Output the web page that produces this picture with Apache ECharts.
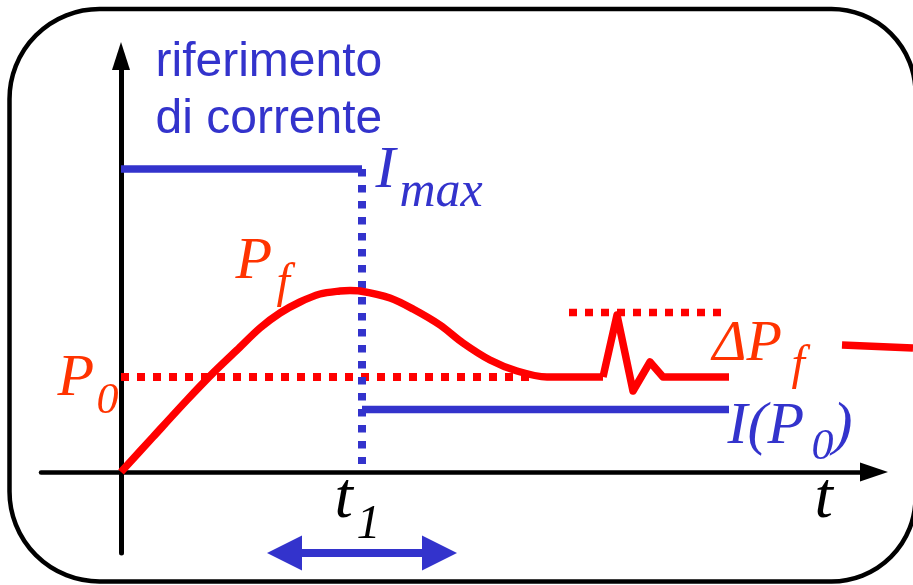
<!DOCTYPE html>
<html>
<head>
<meta charset="utf-8">
<script src="https://cdn.jsdelivr.net/npm/echarts@6/dist/echarts.min.js"></script>
<style>
  html, body { margin: 0; padding: 0; background: #fff; }
  #chart { width: 913px; height: 585px; }
</style>
</head>
<body>
<div id="chart"></div>
<script>
// diagram units: 1 unit ~ 1px, origin where the two axes cross
const powerCurve = [[0, 0], [32, 35], [66, 72], [92, 99], [116, 122], [139, 144], [159, 159], [179, 170],
  [199, 178], [219, 181], [229, 181.5], [239, 181], [269, 174], [292, 163], [319, 147], [342, 129],
  [369, 112], [396, 101], [426, 95], [452, 95], [482, 95]];
const powerDisturb = [[482, 95], [496, 157], [512, 81], [529, 110], [542, 95], [608, 95]];
const powerRef = [[0, 95], [409, 95]];        // P0
const powerBand = [[448, 159.5], [601, 159.5]]; // ΔPf upper limit
const powerTail = [[721, 127], [792, 124]];
const currentMax = [[0, 303], [241, 303]];     // Imax
const currentStep = [[241, 303], [241, 8]];
const currentP0 = [[241, 62.5], [608, 62.5]];  // I(P0)
const intervalT1 = [[163.5, -81], [318.5, -81]];

const BLUE = '#3333cc';
const RED = '#ff0000';
const ORANGE = '#ff3300';
const SERIF = "'Liberation Serif', 'Times New Roman', serif";
const SANS = "'Liberation Sans', Arial, sans-serif";

// text pieces: x = left edge, y = baseline (diagram units)
const annotations = [
  { text: 'riferimento', x: 35, y: 392, size: 48, font: SANS, italic: false, color: BLUE },
  { text: 'di corrente', x: 35, y: 335, size: 48, font: SANS, italic: false, color: BLUE },
  { text: 'I', x: 255, y: 280, size: 60, font: SERIF, italic: true, color: BLUE },
  { text: 'max', x: 279, y: 262, size: 50, font: SERIF, italic: true, color: BLUE },
  { text: 'P', x: 115, y: 189, size: 60, font: SERIF, italic: true, color: ORANGE },
  { text: 'f', x: 156, y: 171, size: 48, font: SERIF, italic: true, color: ORANGE },
  { text: 'P', x: -63, y: 72, size: 60, font: SERIF, italic: true, color: ORANGE },
  { text: '0', x: -24, y: 55, size: 44, font: SERIF, italic: true, color: ORANGE },
  { text: 'ΔP', x: 592, y: 107, size: 58, font: SERIF, italic: true, color: ORANGE },
  { text: 'f', x: 671, y: 89, size: 48, font: SERIF, italic: true, color: ORANGE },
  { text: 'I(P', x: 607, y: 24, size: 60, font: SERIF, italic: true, color: BLUE },
  { text: '0', x: 691, y: 9, size: 44, font: SERIF, italic: true, color: BLUE },
  { text: ')', x: 712, y: 24, size: 60, font: SERIF, italic: true, color: BLUE },
  { text: 't', x: 214, y: -51, size: 66, font: SERIF, italic: true, color: '#000' },
  { text: '1', x: 236, y: -70, size: 48, font: SERIF, italic: true, color: '#000' },
  { text: 't', x: 694, y: -51, size: 66, font: SERIF, italic: true, color: '#000' }
];

const seg = (data, color, width, type, smooth, gridIdx) => ({
  type: 'line',
  data: data,
  xAxisIndex: gridIdx || 0,
  yAxisIndex: gridIdx || 0,
  symbol: 'none',
  smooth: smooth || false,
  clip: false,
  silent: true,
  lineStyle: { color: color, width: width, type: type || 'solid', cap: 'butt', join: 'round' }
});

const chart = echarts.init(document.getElementById('chart'), null, { renderer: 'canvas' });

const hiddenAxis = {
  type: 'value',
  axisTick: { show: false },
  axisLabel: { show: false },
  splitLine: { show: false }
};

chart.setOption({
  animation: false,
  grid: [
    { left: 41, right: 39, top: 56, bottom: 32 },
    // same scale, reaching the right edge (for the line that leaves the frame)
    { left: 41, right: 0, top: 56, bottom: 32 }
  ],
  xAxis: [
    Object.assign({}, hiddenAxis, {
      gridIndex: 0,
      min: -80,
      max: 753,
      axisLine: {
        onZero: true,
        symbol: ['none', 'triangle'],
        symbolSize: [19, 28],
        lineStyle: { color: '#000', width: 4.5 }
      }
    }),
    Object.assign({}, hiddenAxis, { gridIndex: 1, min: -80, max: 792, axisLine: { show: false } })
  ],
  yAxis: [
    Object.assign({}, hiddenAxis, {
      gridIndex: 0,
      min: -81,
      max: 416,
      axisLine: {
        onZero: true,
        symbol: ['none', 'triangle'],
        symbolSize: [18, 28],
        lineStyle: { color: '#000', width: 5 }
      }
    }),
    Object.assign({}, hiddenAxis, { gridIndex: 1, min: -81, max: 416, axisLine: { show: false } })
  ],
  graphic: [
    {
      type: 'rect',
      z: -10,
      shape: { x: 9.5, y: 9, width: 906, height: 572.5, r: [90, 84, 84, 90] },
      style: { fill: 'none', stroke: '#000', lineWidth: 4.5 }
    }
  ],
  series: [
    seg(powerRef, RED, 8, [8, 8]),
    seg(powerBand, RED, 7.5, [8, 8]),
    seg(currentMax, BLUE, 7.5),
    seg(currentStep, BLUE, 8, [7.5, 8.5]),
    seg(currentP0, BLUE, 7.5),
    seg(powerCurve, RED, 7.5, 'solid', 0.3),
    seg(powerDisturb, RED, 7.5),
    seg(powerTail, RED, 7.5, 'solid', false, 1),
    {
      type: 'line',
      data: [],
      silent: true,
      markLine: {
        silent: true,
        symbol: ['triangle', 'triangle'],
        symbolSize: [35, 35],
        label: { show: false },
        lineStyle: { color: BLUE, width: 8, type: 'solid' },
        data: [[{ coord: intervalT1[0] }, { coord: intervalT1[1] }]]
      }
    },
    {
      type: 'scatter',
      symbolSize: 1,
      clip: false,
      silent: true,
      itemStyle: { color: 'rgba(0,0,0,0)', opacity: 1 },
      data: annotations.map(a => ({
        value: [a.x, a.y + 0.34 * a.size],
        label: {
          show: true,
          formatter: a.text,
          position: [0, 0],
          align: 'left',
          verticalAlign: 'middle',
          fontSize: a.size,
          lineHeight: a.size,
          fontFamily: a.font,
          fontStyle: a.italic ? 'italic' : 'normal',
          color: a.color,
          opacity: 1
        }
      }))
    }
  ]
});
</script>
</body>
</html>
